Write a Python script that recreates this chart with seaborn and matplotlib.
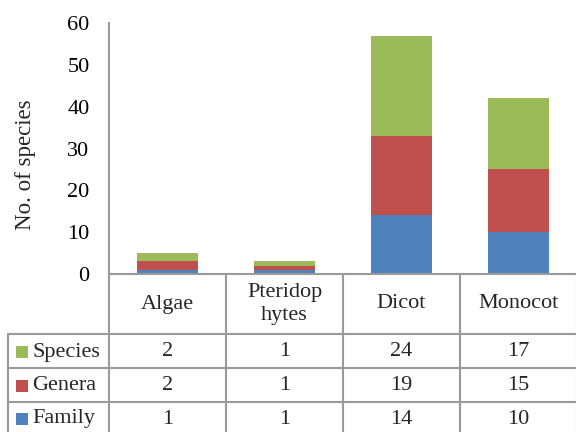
import numpy as np
import pandas as pd
import matplotlib
matplotlib.use('Agg')
import matplotlib.pyplot as plt
import seaborn as sns
from matplotlib.lines import Line2D
from matplotlib.patches import Rectangle

# ---- data ----
categories = ['Algae', 'Pteridophytes', 'Dicot', 'Monocot']
header_labels = ['Algae', 'Pteridop\nhytes', 'Dicot', 'Monocot']
family = [1, 1, 14, 10]
genera = [2, 1, 19, 15]
species = [2, 1, 24, 17]
row_names = ['Species', 'Genera', 'Family']
yticks = [0, 10, 20, 30, 40, 50, 60]

colors = {'Family': '#4F81BD', 'Genera': '#C0504D', 'Species': '#9BBB59'}
grid_color = '#9a9a9a'

sns.set_theme(style='white')
plt.rcParams['font.family'] = ['Liberation Serif', 'DejaVu Serif']

W, H = 576, 432
fig = plt.figure(figsize=(W / 100, H / 100), dpi=100)
fig.patch.set_facecolor('white')

def fx(x):
    return x / W

def fy(y):
    return 1 - y / H

L, R, B, T = 109, 577, 274, 23
ax = fig.add_axes([fx(L), fy(B), (R - L) / W, (B - T) / H])

df = pd.DataFrame({'cat': categories, 'Family': family,
                   'Genera': genera, 'Species': species})
df['cum_gen'] = df['Family'] + df['Genera']
df['cum_spe'] = df['cum_gen'] + df['Species']

for col, name in [('cum_spe', 'Species'), ('cum_gen', 'Genera'), ('Family', 'Family')]:
    sns.barplot(data=df, x='cat', y=col, order=categories, color=colors[name],
                width=0.52, saturation=1, errorbar=None, linewidth=0,
                edgecolor='none', ax=ax)

ax.set_xlim(-0.5, 3.5)
ax.set_ylim(0, 60)
ax.set_yticks(yticks)
ax.set_yticklabels([str(v) for v in yticks], fontsize=16)
ax.set_xticks([])
ax.set_xlabel('')
ax.set_ylabel('')
ax.tick_params(axis='y', length=0, pad=14, colors='black')
for s in ['top', 'right', 'bottom']:
    ax.spines[s].set_visible(False)
ax.spines['left'].set_color(grid_color)
ax.spines['left'].set_linewidth(1.5)
ax.set_facecolor('white')

fig.text(fx(26), fy(165), 'No. of species', rotation=90, ha='center', va='center',
         fontsize=16.5)

# ---- data table ----
ncol = len(categories)
col_w = (R - L) / ncol
col_edges = [L + i * col_w for i in range(ncol + 1)]
table_left = 8
header_top, header_bot = 274, 334
row_edges = [334, 368, 402, 436]

def hline(y, x0, x1):
    fig.add_artist(Line2D([fx(x0), fx(x1)], [fy(y), fy(y)], color=grid_color,
                          lw=1.5, transform=fig.transFigure))

def vline(x, y0, y1):
    fig.add_artist(Line2D([fx(x), fx(x)], [fy(y0), fy(y1)], color=grid_color,
                          lw=1.5, transform=fig.transFigure))

hline(header_top, L, R)
for y in row_edges:
    hline(y, table_left, R)
vline(L, header_top, 436)
vline(table_left, header_bot, 436)
for x in col_edges[1:]:
    vline(x, header_top, 436)

header_y = (header_top + header_bot) / 2
for i, lab in enumerate(header_labels):
    cx = (col_edges[i] + col_edges[i + 1]) / 2
    fig.text(fx(cx), fy(header_y), lab, ha='center', va='center', fontsize=16,
             linespacing=1.3)

row_values = {'Species': species, 'Genera': genera, 'Family': family}
for r, name in enumerate(row_names):
    cy = (row_edges[r] + row_edges[r + 1]) / 2 + 1 if r < 2 else 419
    fig.add_artist(Rectangle((fx(16), fy(cy + 6)), 12 / W, 12 / H,
                             facecolor=colors[name], edgecolor='none',
                             transform=fig.transFigure))
    fig.text(fx(32), fy(cy), name, ha='left', va='center', fontsize=16)
    for i, v in enumerate(row_values[name]):
        cx = (col_edges[i] + col_edges[i + 1]) / 2
        fig.text(fx(cx), fy(cy), str(v), ha='center', va='center', fontsize=16)

fig.savefig('out.png', dpi=100, facecolor='white')
